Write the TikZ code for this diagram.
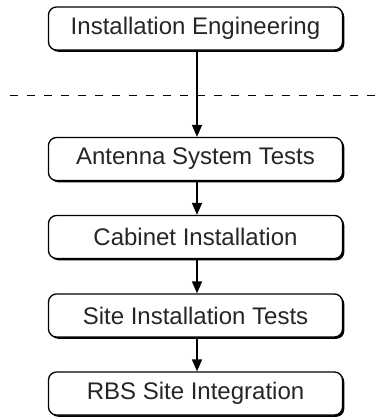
\documentclass[tikz,border=0pt]{standalone}
\usepackage{fontspec}
\setmainfont{Liberation Sans}
\usetikzlibrary{arrows.meta,shadows}
\begin{document}
\begin{tikzpicture}[x=1pt,y=-1pt,
  stepbox/.style={draw=black, line width=1.3pt, fill=white, rounded corners=8pt,
    minimum width=294pt, minimum height=43pt, inner sep=0pt,
    font=\fontsize{24}{28}\selectfont, text=black!85,
    drop shadow={shadow xshift=1.8pt, shadow yshift=-1.8pt, fill=black, opacity=1}},
  flow/.style={line width=1.6pt, -{Triangle[width=10pt,length=12pt]}},
  sep/.style={line width=1pt, dash pattern=on 8pt off 9pt}]
\useasboundingbox (0,0) rectangle (383,418);
\node[stepbox] (a) at (195.5,28.5) {Installation Engineering};
\node[stepbox] (b) at (195.5,159) {Antenna System Tests};
\node[stepbox] (c) at (195.5,237) {Cabinet Installation};
\node[stepbox] (d) at (195.5,315.5) {Site Installation Tests};
\node[stepbox] (e) at (195.5,393.5) {RBS Site Integration};
\coordinate (l) at (10,95);
\coordinate (r) at (383,95);
\draw[sep] (l) -- (r);
\draw[flow] ([xshift=1.5pt]a.south) -- ([xshift=1.5pt]b.north);
\draw[flow] ([xshift=1.5pt]b.south) -- ([xshift=1.5pt]c.north);
\draw[flow] ([xshift=1.5pt]c.south) -- ([xshift=1.5pt]d.north);
\draw[flow] ([xshift=1.5pt]d.south) -- ([xshift=1.5pt]e.north);
\end{tikzpicture}
\end{document}
